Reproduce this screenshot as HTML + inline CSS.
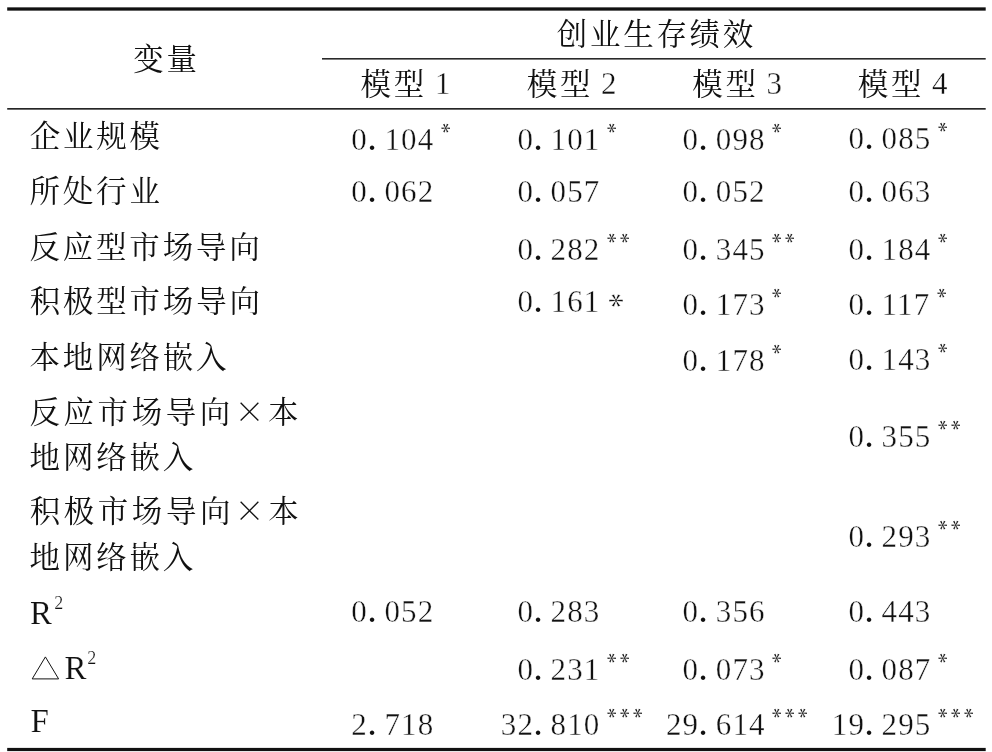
<!DOCTYPE html>
<html lang="zh"><head><meta charset="utf-8"><title>表</title>
<style>
html,body{margin:0;padding:0;background:#fff}
#t{will-change:transform;position:relative;width:992px;height:752px;background:#fff;overflow:hidden;font-family:"Liberation Serif",serif;color:#111}
.r{position:absolute}
.n{position:absolute;font-size:31.0px;line-height:normal;letter-spacing:1.10px;white-space:nowrap;-webkit-text-stroke:0.36px #fff}
.n i{font-style:normal;display:inline-block;width:16.60px;letter-spacing:0;text-indent:-0.2px;transform:scale(1.24);transform-origin:15% 80.5%;-webkit-text-stroke:0}
.n sup{font-size:20px;letter-spacing:0;vertical-align:baseline;position:relative;top:-12.5px;margin-left:5.5px;line-height:0;-webkit-text-stroke:0.12px #fff}
.n sup u{display:inline-block;text-decoration:none;width:13px;text-align:center;transform:scale(1.2,1.08) rotate(90deg);transform-origin:50% -2.75px}
.n b{font-weight:normal;font-size:34px;letter-spacing:0;vertical-align:baseline;position:relative;top:4.3px;display:inline-block;transform:scale(1.11,0.9) rotate(90deg);transform-origin:50% -4.7px;margin-left:7.0px;line-height:0;-webkit-text-stroke:0.45px #fff}
.n.l{letter-spacing:0;font-size:33.0px;-webkit-text-stroke:0.15px #fff}
.n sup.s2{font-size:18px;top:-14.2px;margin-left:2.3px;letter-spacing:0;-webkit-text-stroke:0.2px #fff}
.n sup.s3{top:-15.0px;margin-left:0.8px}
.tri{position:absolute}
#g{position:absolute;left:0;top:0}
#g text{font-family:"Liberation Serif","Noto Serif CJK SC",serif;font-size:30.5px;fill:#111}
#g text.k{letter-spacing:2.8px}
#g text.k2{letter-spacing:3.57px}
#g text.x{font-family:"Noto Serif CJK SC","Liberation Serif",serif;text-anchor:middle}
</style></head><body>
<div id="t">
<span class="n" style="left:434.9px;top:66.0px">1</span>
<span class="n" style="left:601.1px;top:66.0px">2</span>
<span class="n" style="left:766.6px;top:66.0px">3</span>
<span class="n" style="left:932.1px;top:66.0px">4</span>
<span class="n" style="left:351.3px;top:122px">0<i>.</i>104<sup><u>*</u></sup></span>
<span class="n" style="left:517.4px;top:122px">0<i>.</i>101<sup><u>*</u></sup></span>
<span class="n" style="left:682.6px;top:122px">0<i>.</i>098<sup><u>*</u></sup></span>
<span class="n" style="left:848.4px;top:121px">0<i>.</i>085<sup><u>*</u></sup></span>
<span class="n" style="left:351.3px;top:174px">0<i>.</i>062</span>
<span class="n" style="left:517.4px;top:174px">0<i>.</i>057</span>
<span class="n" style="left:682.6px;top:174px">0<i>.</i>052</span>
<span class="n" style="left:848.4px;top:174px">0<i>.</i>063</span>
<span class="n" style="left:517.4px;top:232px">0<i>.</i>282<sup><u>*</u><u>*</u></sup></span>
<span class="n" style="left:682.6px;top:232px">0<i>.</i>345<sup><u>*</u><u>*</u></sup></span>
<span class="n" style="left:848.4px;top:232px">0<i>.</i>184<sup><u>*</u></sup></span>
<span class="n" style="left:517.4px;top:284px">0<i>.</i>161<b>*</b></span>
<span class="n" style="left:682.6px;top:287px">0<i>.</i>173<sup><u>*</u></sup></span>
<span class="n" style="left:848.4px;top:287px">0<i>.</i>117<sup><u>*</u></sup></span>
<span class="n" style="left:682.6px;top:343px">0<i>.</i>178<sup><u>*</u></sup></span>
<span class="n" style="left:848.4px;top:342px">0<i>.</i>143<sup><u>*</u></sup></span>
<span class="n" style="left:848.4px;top:419px">0<i>.</i>355<sup><u>*</u><u>*</u></sup></span>
<span class="n" style="left:848.4px;top:519px">0<i>.</i>293<sup><u>*</u><u>*</u></sup></span>
<span class="n" style="left:351.3px;top:594px">0<i>.</i>052</span>
<span class="n" style="left:517.4px;top:594px">0<i>.</i>283</span>
<span class="n" style="left:682.6px;top:594px">0<i>.</i>356</span>
<span class="n" style="left:848.4px;top:594px">0<i>.</i>443</span>
<span class="n" style="left:517.4px;top:652px">0<i>.</i>231<sup><u>*</u><u>*</u></sup></span>
<span class="n" style="left:682.6px;top:652px">0<i>.</i>073<sup><u>*</u></sup></span>
<span class="n" style="left:848.4px;top:652px">0<i>.</i>087<sup><u>*</u></sup></span>
<span class="n" style="left:351.3px;top:707px">2<i>.</i>718</span>
<span class="n" style="left:500.8px;top:707px">32<i>.</i>810<sup><u>*</u><u>*</u><u>*</u></sup></span>
<span class="n" style="left:666.0px;top:707px">29<i>.</i>614<sup><u>*</u><u>*</u><u>*</u></sup></span>
<span class="n" style="left:831.8px;top:707px">19<i>.</i>295<sup><u>*</u><u>*</u><u>*</u></sup></span>
<span class="n l" style="left:30.0px;top:594.6px">R<sup class="s2">2</sup></span>
<span class="n l" style="left:64.5px;top:650.1px">R<sup class="s2 s3">2</sup></span>
<span class="n l" style="left:30.6px;top:702.8px">F</span>
<svg class="tri" style="left:30px;top:654px" width="32" height="28" viewBox="0 0 32 28" role="img" aria-label="△"><path d="M15.4 2.9 L28.6 24.9 L2.2 24.9 Z" fill="none" stroke="#111" stroke-width="1.0"/></svg>
<svg id="g" width="992" height="752" viewBox="0 0 992 752" fill="#111">
<rect x="7.2" y="7.35" width="978.5" height="3.3" fill="#111"/>
<rect x="322.0" y="58.0" width="663.7" height="1.6" fill="#2a2a2a"/>
<rect x="7.2" y="108.05" width="978.5" height="1.6" fill="#1c1c1c"/>
<rect x="7.2" y="747.9" width="978.5" height="3.2" fill="#111"/>
<text class="k" x="133.29" y="70.34">变量</text>
<text x="556.80" y="44.84" style="letter-spacing:2.7px">创业生存绩效</text>
<text class="k" x="360.43" y="94.89">模型</text>
<text class="k" x="526.68" y="94.89">模型</text>
<text class="k" x="692.18" y="94.89">模型</text>
<text class="k" x="857.68" y="94.89">模型</text>
<text class="k" x="29.65" y="147.39">企业规模</text>
<text class="k" x="29.50" y="201.99">所处行业</text>
<text class="k" x="29.47" y="257.59">反应型市场导向</text>
<text class="k" x="29.65" y="312.29">积极型市场导向</text>
<text class="k" x="29.56" y="367.59">本地网络嵌入</text>
<text class="k2" x="29.47" y="422.89">反应市场导向</text>
<text class="x" x="249.44" y="422.89">×</text>
<text x="267.96" y="422.89">本</text>
<text class="k" x="29.59" y="467.89">地网络嵌入</text>
<text class="k2" x="29.65" y="521.99">积极市场导向</text>
<text class="x" x="249.62" y="521.99">×</text>
<text x="268.14" y="521.99">本</text>
<text class="k" x="29.59" y="567.59">地网络嵌入</text>
</svg>
</div>
</body></html>
